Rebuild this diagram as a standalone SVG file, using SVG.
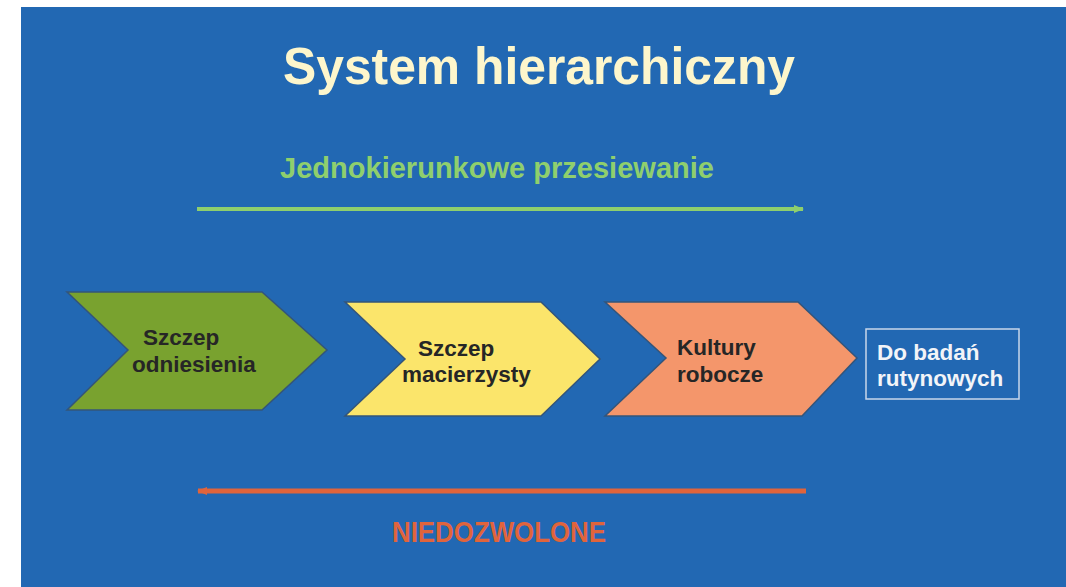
<svg xmlns="http://www.w3.org/2000/svg" width="1066" height="587" viewBox="0 0 1066 587">
  <defs>
    <style>
      .t { font-family: "Liberation Sans", Arial, sans-serif; font-weight: bold; }
      .lbl { font-size: 22.5px; fill: #262626; }
      .chev { stroke: #34557a; stroke-width: 1.5; stroke-linejoin: miter; }
    </style>
    <marker id="ahG" markerWidth="10" markerHeight="10" refX="9" refY="5" orient="auto" markerUnits="userSpaceOnUse">
      <path d="M0,1 L10,5 L0,9 Z" fill="#8fcf6d"/>
    </marker>
    <marker id="ahR" markerWidth="10" markerHeight="10" refX="9" refY="5" orient="auto" markerUnits="userSpaceOnUse">
      <path d="M0,1 L10,5 L0,9 Z" fill="#e0643c"/>
    </marker>
  </defs>
  <rect x="0" y="0" width="1066" height="587" fill="#ffffff"/>
  <rect x="21" y="7" width="1045" height="580" fill="#2268b3"/>

  <text class="t" x="539" y="84" font-size="52" fill="#fdf6cc" text-anchor="middle" textLength="512" lengthAdjust="spacingAndGlyphs">System hierarchiczny</text>

  <text class="t" x="497" y="178" font-size="29" fill="#8fcf6d" text-anchor="middle" textLength="434" lengthAdjust="spacingAndGlyphs">Jednokierunkowe przesiewanie</text>

  <g id="connectors">
    <line x1="197" y1="209" x2="803" y2="209" stroke="#8fcf6d" stroke-width="4" marker-end="url(#ahG)"/>
    <line x1="806" y1="491" x2="198" y2="491" stroke="#e0643c" stroke-width="5" marker-end="url(#ahR)"/>
  </g>

  <g id="node-odniesienia">
    <polygon class="chev" points="67,292 262,292 327,350 262,410 67,410 128,350" fill="#79a22f"/>
    <text class="t lbl" x="143" y="345">Szczep</text>
    <text class="t lbl" x="132" y="372">odniesienia</text>
  </g>

  <g id="node-macierzysty">
    <polygon class="chev" points="345,302 541,302 600,359 541,416 345,416 405,359" fill="#fbe56b"/>
    <text class="t lbl" x="418" y="356">Szczep</text>
    <text class="t lbl" x="402" y="382">macierzysty</text>
  </g>

  <g id="node-robocze">
    <polygon class="chev" points="605,302 798,302 857,358 802,416 605,416 666,358" fill="#f4966b"/>
    <text class="t lbl" x="677" y="355">Kultury</text>
    <text class="t lbl" x="677" y="382">robocze</text>
  </g>

  <g id="node-rutynowe">
    <rect x="866" y="329" width="153" height="70" fill="none" stroke="#c9d6ea" stroke-width="1.5"/>
    <text class="t" x="877" y="360" font-size="22.5" fill="#f2f4f8">Do badań</text>
    <text class="t" x="877" y="386" font-size="22.5" fill="#f2f4f8">rutynowych</text>
  </g>

  <text class="t" x="499" y="542" font-size="29" fill="#e0643c" text-anchor="middle" textLength="214" lengthAdjust="spacingAndGlyphs">NIEDOZWOLONE</text>
</svg>
